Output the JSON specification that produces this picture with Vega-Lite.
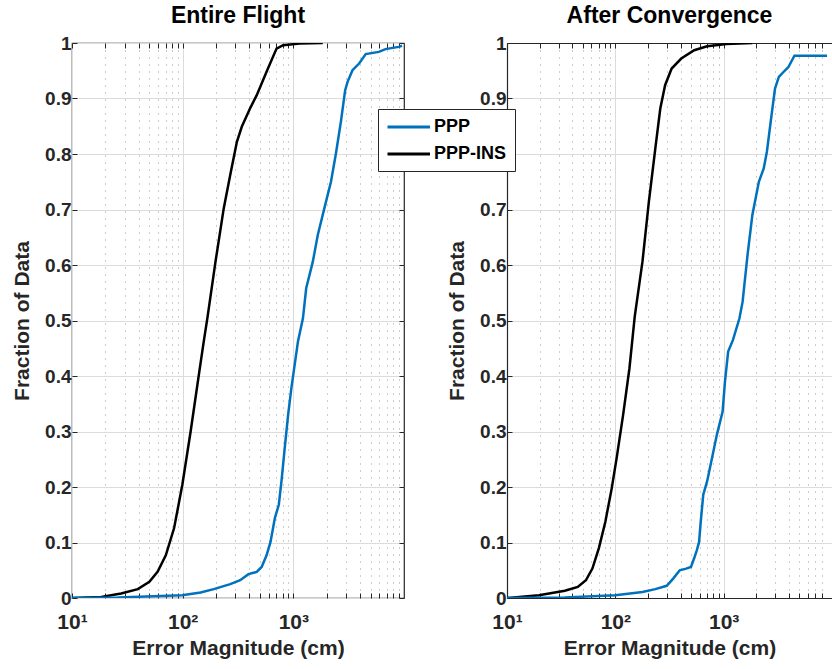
{
  "$schema": "https://vega.github.io/schema/vega-lite/v6.json",
  "padding": {"left": 10, "top": 4, "right": 0, "bottom": 0},
  "spacing": 40,
  "config": {
    "font": "Liberation Sans",
    "view": {"stroke": "#262626", "strokeWidth": 1.2},
    "axis": {
      "labelFont": "Liberation Sans", "labelFontWeight": "bold", "labelColor": "#262626",
      "titleFont": "Liberation Sans", "titleFontWeight": "bold", "titleColor": "#262626", "titleFontSize": 21,
      "domain": false, "domainColor": "#262626", "domainWidth": 1.2,
      "tickColor": "#262626", "tickSize": -5, "tickWidth": 1,
      "gridColor": "#dcdcdc", "gridWidth": 1
    },
    "title": {"font": "Liberation Sans", "fontSize": 23, "fontWeight": "bold", "color": "#000000", "offset": 6},
    "legend": {
      "title": null, "symbolType": "M-1,0H4", "symbolStrokeWidth": 3, "symbolSize": 289,
      "labelFont": "Liberation Sans", "labelFontSize": 18, "labelFontWeight": "bold", "labelColor": "#000000",
      "strokeColor": "#262626", "fillColor": "#ffffff", "padding": 8, "rowPadding": 8, "labelOffset": 28
    }
  },
  "datasets": {
    "entire": [
      {"series": "PPP-INS", "err": 10, "frac": 0},
      {"series": "PPP-INS", "err": 18.4, "frac": 0.002},
      {"series": "PPP-INS", "err": 27.8, "frac": 0.008},
      {"series": "PPP-INS", "err": 39.3, "frac": 0.016},
      {"series": "PPP-INS", "err": 50, "frac": 0.029},
      {"series": "PPP-INS", "err": 59.3, "frac": 0.047},
      {"series": "PPP-INS", "err": 70.4, "frac": 0.077},
      {"series": "PPP-INS", "err": 83.7, "frac": 0.126},
      {"series": "PPP-INS", "err": 99.3, "frac": 0.204},
      {"series": "PPP-INS", "err": 118, "frac": 0.3},
      {"series": "PPP-INS", "err": 140, "frac": 0.402},
      {"series": "PPP-INS", "err": 155, "frac": 0.462},
      {"series": "PPP-INS", "err": 168, "frac": 0.507},
      {"series": "PPP-INS", "err": 198, "frac": 0.606},
      {"series": "PPP-INS", "err": 235, "frac": 0.702},
      {"series": "PPP-INS", "err": 269, "frac": 0.762},
      {"series": "PPP-INS", "err": 309, "frac": 0.822},
      {"series": "PPP-INS", "err": 342, "frac": 0.849},
      {"series": "PPP-INS", "err": 406, "frac": 0.882},
      {"series": "PPP-INS", "err": 467, "frac": 0.906},
      {"series": "PPP-INS", "err": 573, "frac": 0.948},
      {"series": "PPP-INS", "err": 705, "frac": 0.99},
      {"series": "PPP-INS", "err": 809, "frac": 0.996},
      {"series": "PPP-INS", "err": 1138, "frac": 0.999},
      {"series": "PPP-INS", "err": 1845, "frac": 1.0},
      {"series": "PPP", "err": 10, "frac": 0},
      {"series": "PPP", "err": 26, "frac": 0.001},
      {"series": "PPP", "err": 99, "frac": 0.005},
      {"series": "PPP", "err": 145, "frac": 0.01},
      {"series": "PPP", "err": 191, "frac": 0.016},
      {"series": "PPP", "err": 269, "frac": 0.025},
      {"series": "PPP", "err": 331, "frac": 0.032},
      {"series": "PPP", "err": 393, "frac": 0.043},
      {"series": "PPP", "err": 467, "frac": 0.047},
      {"series": "PPP", "err": 517, "frac": 0.056},
      {"series": "PPP", "err": 573, "frac": 0.077},
      {"series": "PPP", "err": 622, "frac": 0.101},
      {"series": "PPP", "err": 681, "frac": 0.144},
      {"series": "PPP", "err": 739, "frac": 0.168},
      {"series": "PPP", "err": 781, "frac": 0.21},
      {"series": "PPP", "err": 836, "frac": 0.27},
      {"series": "PPP", "err": 897, "frac": 0.33},
      {"series": "PPP", "err": 960, "frac": 0.378},
      {"series": "PPP", "err": 1028, "frac": 0.42},
      {"series": "PPP", "err": 1101, "frac": 0.462},
      {"series": "PPP", "err": 1221, "frac": 0.504},
      {"series": "PPP", "err": 1307, "frac": 0.558},
      {"series": "PPP", "err": 1500, "frac": 0.606},
      {"series": "PPP", "err": 1663, "frac": 0.654},
      {"series": "PPP", "err": 1906, "frac": 0.702},
      {"series": "PPP", "err": 2188, "frac": 0.75},
      {"series": "PPP", "err": 2426, "frac": 0.801},
      {"series": "PPP", "err": 2690, "frac": 0.858},
      {"series": "PPP", "err": 2940, "frac": 0.915},
      {"series": "PPP", "err": 3090, "frac": 0.93},
      {"series": "PPP", "err": 3425, "frac": 0.951},
      {"series": "PPP", "err": 3930, "frac": 0.963},
      {"series": "PPP", "err": 4510, "frac": 0.98},
      {"series": "PPP", "err": 5930, "frac": 0.984},
      {"series": "PPP", "err": 6800, "frac": 0.989},
      {"series": "PPP", "err": 8950, "frac": 0.993},
      {"series": "PPP", "err": 9600, "frac": 0.995}
    ],
    "after": [
      {"series": "PPP-INS", "err": 10, "frac": 0},
      {"series": "PPP-INS", "err": 19.7, "frac": 0.005},
      {"series": "PPP-INS", "err": 34.2, "frac": 0.013},
      {"series": "PPP-INS", "err": 45, "frac": 0.02},
      {"series": "PPP-INS", "err": 53.5, "frac": 0.032},
      {"series": "PPP-INS", "err": 61.4, "frac": 0.053},
      {"series": "PPP-INS", "err": 70.5, "frac": 0.09},
      {"series": "PPP-INS", "err": 80.8, "frac": 0.137},
      {"series": "PPP-INS", "err": 92.7, "frac": 0.198},
      {"series": "PPP-INS", "err": 102.8, "frac": 0.252},
      {"series": "PPP-INS", "err": 118, "frac": 0.33},
      {"series": "PPP-INS", "err": 135, "frac": 0.414},
      {"series": "PPP-INS", "err": 151, "frac": 0.507},
      {"series": "PPP-INS", "err": 178, "frac": 0.606},
      {"series": "PPP-INS", "err": 204, "frac": 0.714},
      {"series": "PPP-INS", "err": 234, "frac": 0.81},
      {"series": "PPP-INS", "err": 260, "frac": 0.882},
      {"series": "PPP-INS", "err": 288, "frac": 0.924},
      {"series": "PPP-INS", "err": 331, "frac": 0.954},
      {"series": "PPP-INS", "err": 406, "frac": 0.972},
      {"series": "PPP-INS", "err": 535, "frac": 0.987},
      {"series": "PPP-INS", "err": 703, "frac": 0.994},
      {"series": "PPP-INS", "err": 1062, "frac": 0.998},
      {"series": "PPP-INS", "err": 1840, "frac": 1.0},
      {"series": "PPP", "err": 10, "frac": 0},
      {"series": "PPP", "err": 34, "frac": 0.001},
      {"series": "PPP", "err": 100, "frac": 0.005},
      {"series": "PPP", "err": 178, "frac": 0.011},
      {"series": "PPP", "err": 234, "frac": 0.016},
      {"series": "PPP", "err": 298, "frac": 0.022},
      {"series": "PPP", "err": 342, "frac": 0.035},
      {"series": "PPP", "err": 393, "frac": 0.05},
      {"series": "PPP", "err": 450, "frac": 0.053},
      {"series": "PPP", "err": 499, "frac": 0.056},
      {"series": "PPP", "err": 535, "frac": 0.072},
      {"series": "PPP", "err": 565, "frac": 0.086},
      {"series": "PPP", "err": 593, "frac": 0.101},
      {"series": "PPP", "err": 614, "frac": 0.137},
      {"series": "PPP", "err": 648, "frac": 0.186},
      {"series": "PPP", "err": 703, "frac": 0.21},
      {"series": "PPP", "err": 780, "frac": 0.252},
      {"series": "PPP", "err": 865, "frac": 0.294},
      {"series": "PPP", "err": 978, "frac": 0.336},
      {"series": "PPP", "err": 1028, "frac": 0.39},
      {"series": "PPP", "err": 1100, "frac": 0.444},
      {"series": "PPP", "err": 1219, "frac": 0.465},
      {"series": "PPP", "err": 1399, "frac": 0.504},
      {"series": "PPP", "err": 1496, "frac": 0.534},
      {"series": "PPP", "err": 1660, "frac": 0.618},
      {"series": "PPP", "err": 1840, "frac": 0.69},
      {"series": "PPP", "err": 2113, "frac": 0.75},
      {"series": "PPP", "err": 2343, "frac": 0.774},
      {"series": "PPP", "err": 2506, "frac": 0.804},
      {"series": "PPP", "err": 2741, "frac": 0.864},
      {"series": "PPP", "err": 2978, "frac": 0.918},
      {"series": "PPP", "err": 3231, "frac": 0.939},
      {"series": "PPP", "err": 3656, "frac": 0.95},
      {"series": "PPP", "err": 3972, "frac": 0.957},
      {"series": "PPP", "err": 4500, "frac": 0.977},
      {"series": "PPP", "err": 9000, "frac": 0.977}
    ]
  },
  "hconcat": [
    {
      "width": 332, "height": 555,
      "title": "Entire Flight",
      "data": {"name": "entire"},
      "layer": [
        {
          "mark": {"type": "line", "strokeWidth": 2.5, "clip": true},
          "encoding": {
            "x": {"field": "err", "type": "quantitative",
              "scale": {"type": "log", "domain": [10, 9200]},
              "axis": {"title": "Error Magnitude (cm)", "orient": "bottom",
                "values": [10,20,30,40,50,60,70,80,90,100,200,300,400,500,600,700,800,900,1000,2000,3000,4000,5000,6000,7000,8000,9000],
                "labelExpr": "datum.value == 10 ? '10¹' : datum.value == 100 ? '10²' : datum.value == 1000 ? '10³' : ''",
                "labelFontSize": 21, "labelPadding": 18, "labelFlush": false, "labelOverlap": false,
                "gridDash": {"condition": {"test": "datum.value == 10 || datum.value == 100 || datum.value == 1000", "value": []}, "value": [1, 6]},
                "gridColor": {"condition": {"test": "datum.value == 10 || datum.value == 100 || datum.value == 1000", "value": "#dcdcdc"}, "value": "#9a9a9a"},
                "titlePadding": 5}},
            "y": {"field": "frac", "type": "quantitative", "scale": {"domain": [0, 1]},
              "axis": {"title": "Fraction of Data", "orient": "left",
                "values": [0,0.1,0.2,0.3,0.4,0.5,0.6,0.7,0.8,0.9,1], "format": ".1~f",
                "labelFontSize": 19, "labelPadding": 6, "titlePadding": 12}},
            "color": {"field": "series", "type": "nominal",
              "scale": {"domain": ["PPP", "PPP-INS"], "range": ["#0072BD", "#000000"]},
              "legend": {"orient": "none", "legendX": 306, "legendY": 66}}
          }
        },
        {
          "mark": {"type": "line", "opacity": 0},
          "encoding": {
            "x": {"field": "err", "type": "quantitative",
              "axis": {"orient": "top", "title": null, "labels": false, "grid": false,
                "values": [10,20,30,40,50,60,70,80,90,100,200,300,400,500,600,700,800,900,1000,2000,3000,4000,5000,6000,7000,8000,9000]}},
            "y": {"field": "frac", "type": "quantitative",
              "axis": {"orient": "right", "title": null, "labels": false, "grid": false,
                "values": [0,0.1,0.2,0.3,0.4,0.5,0.6,0.7,0.8,0.9,1]}},
            "detail": {"field": "series"}
          }
        }
      ],
      "resolve": {"axis": {"x": "independent", "y": "independent"}}
    },
    {
      "width": 325, "height": 555,
      "view": {"stroke": null},
      "title": "After Convergence",
      "data": {"name": "after"},
      "layer": [
        {
          "mark": {"type": "line", "strokeWidth": 2.5, "clip": true},
          "encoding": {
            "x": {"field": "err", "type": "quantitative",
              "scale": {"type": "log", "domain": [10, 8000]},
              "axis": {"title": "Error Magnitude (cm)", "orient": "bottom", "domain": true,
                "values": [10,20,30,40,50,60,70,80,90,100,200,300,400,500,600,700,800,900,1000,2000,3000,4000,5000,6000,7000,8000],
                "labelExpr": "datum.value == 10 ? '10¹' : datum.value == 100 ? '10²' : datum.value == 1000 ? '10³' : ''",
                "labelFontSize": 21, "labelPadding": 18, "labelFlush": false, "labelOverlap": false,
                "gridDash": {"condition": {"test": "datum.value == 10 || datum.value == 100 || datum.value == 1000", "value": []}, "value": [1, 6]},
                "gridColor": {"condition": {"test": "datum.value == 10 || datum.value == 100 || datum.value == 1000", "value": "#dcdcdc"}, "value": "#9a9a9a"},
                "titlePadding": 5}},
            "y": {"field": "frac", "type": "quantitative", "scale": {"domain": [0, 1]},
              "axis": {"title": "Fraction of Data", "orient": "left", "domain": true,
                "values": [0,0.1,0.2,0.3,0.4,0.5,0.6,0.7,0.8,0.9,1], "format": ".1~f",
                "labelFontSize": 19, "labelPadding": 6, "titlePadding": 12}},
            "color": {"field": "series", "type": "nominal",
              "scale": {"domain": ["PPP", "PPP-INS"], "range": ["#0072BD", "#000000"]},
              "legend": {"orient": "none", "legendX": 306, "legendY": 66}}
          }
        },
        {
          "mark": {"type": "line", "opacity": 0},
          "encoding": {
            "x": {"field": "err", "type": "quantitative",
              "axis": {"orient": "top", "title": null, "labels": false, "grid": false, "domain": true,
                "values": [10,20,30,40,50,60,70,80,90,100,200,300,400,500,600,700,800,900,1000,2000,3000,4000,5000,6000,7000,8000]}},
            "y": {"field": "frac", "type": "quantitative",
              "axis": {"orient": "right", "title": null, "labels": false, "grid": false, "ticks": false,
                "values": [0,0.1,0.2,0.3,0.4,0.5,0.6,0.7,0.8,0.9,1]}},
            "detail": {"field": "series"}
          }
        }
      ],
      "resolve": {"axis": {"x": "independent", "y": "independent"}}
    }
  ]
}
